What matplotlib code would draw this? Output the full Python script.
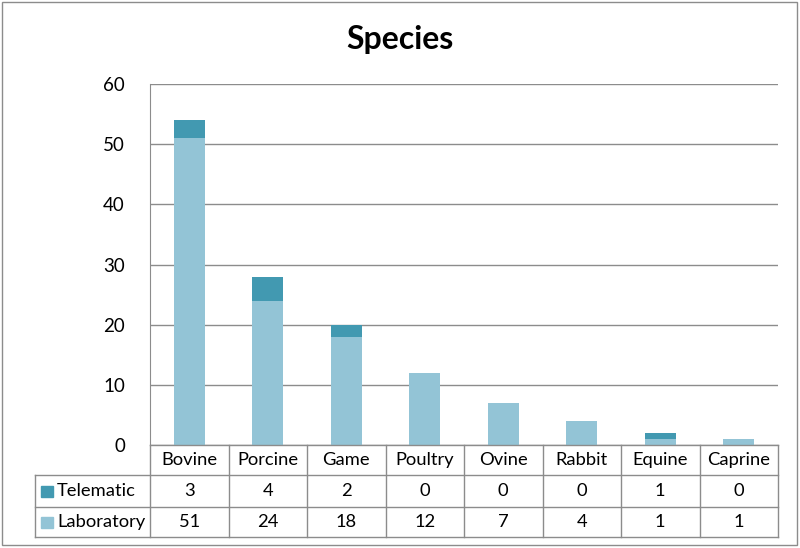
import matplotlib
matplotlib.use("Agg")
import matplotlib.pyplot as plt
from matplotlib.transforms import blended_transform_factory
from matplotlib.patches import Rectangle
from matplotlib.lines import Line2D

categories = ["Bovine", "Porcine", "Game", "Poultry", "Ovine", "Rabbit", "Equine", "Caprine"]
laboratory = [51, 24, 18, 12, 7, 4, 1, 1]
telematic = [3, 4, 2, 0, 0, 0, 1, 0]
yticks = [0, 10, 20, 30, 40, 50, 60]

c_lab = "#93C4D6"
c_tel = "#4299B1"
c_grid = "#8C8C8C"
plt.rcParams['font.family'] = ['Lato', 'DejaVu Sans']

W, H = 800, 548
fig = plt.figure(figsize=(W/100, H/100), dpi=100)
def fx(p): return p / W
def fy(p): return 1 - p / H

x0, x1, ytop, ybot = 150, 778, 84, 445
ax = fig.add_axes([fx(x0), fy(ybot), fx(x1) - fx(x0), fy(ytop) - fy(ybot)])
xs = list(range(len(categories)))
ax.bar(xs, laboratory, width=0.39, color=c_lab, zorder=3)
ax.bar(xs, telematic, width=0.39, bottom=laboratory, color=c_tel, zorder=3)
ax.set_xlim(-0.5, len(categories) - 0.5)
ax.set_ylim(0, 60)
ax.set_yticks(yticks)
ax.set_yticklabels([str(v) for v in yticks], fontsize=13.5)
ax.tick_params(axis='y', length=0, pad=18)
ax.set_xticks([])
ax.yaxis.grid(True, color=c_grid, linewidth=1, zorder=0)
for s in ['top', 'right', 'bottom']:
    ax.spines[s].set_visible(False)
ax.spines['left'].set_color(c_grid)

fig.text(0.5, fy(40), "Species", ha='center', va='center', fontsize=23, fontweight='bold')

# Data table
tr = blended_transform_factory(ax.transData, fig.transFigure)
rows_y = [445, 475, 507, 537]
lkw = dict(color=c_grid, linewidth=1)
fig.add_artist(Line2D([fx(x0), fx(x1)], [fy(445), fy(445)], **lkw))
for yy in rows_y[1:]:
    fig.add_artist(Line2D([fx(35), fx(x1)], [fy(yy), fy(yy)], **lkw))
fig.add_artist(Line2D([fx(35), fx(35)], [fy(475), fy(537)], **lkw))
for k in range(len(categories) + 1):
    fig.add_artist(Line2D([k - 0.5, k - 0.5], [fy(445), fy(537)], transform=tr, **lkw))

tfs = 13.2
for i, cat in enumerate(categories):
    fig.text(i, fy(460), cat, transform=tr, ha='center', va='center', fontsize=tfs)
    fig.text(i, fy(491), str(telematic[i]), transform=tr, ha='center', va='center', fontsize=tfs)
    fig.text(i, fy(522), str(laboratory[i]), transform=tr, ha='center', va='center', fontsize=tfs)

for name, col, yc in [("Telematic", c_tel, 491), ("Laboratory", c_lab, 522)]:
    fig.add_artist(Rectangle((fx(41), fy(yc + 5.5)), fx(12), 11 / H, color=col, transform=fig.transFigure))
    fig.text(fx(57), fy(yc), name, ha='left', va='center', fontsize=tfs)

fig.add_artist(Rectangle((fx(2), fy(545)), fx(795), 543 / H, fill=False, edgecolor=c_grid,
                         linewidth=1, transform=fig.transFigure))

fig.savefig("out.png", dpi=100)
